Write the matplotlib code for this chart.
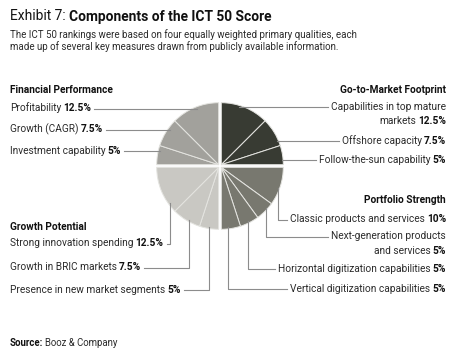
import matplotlib
matplotlib.use("Agg")
import matplotlib.pyplot as plt
import numpy as np

plt.rcParams['font.family'] = ['Roboto', 'DejaVu Sans']

# ---------------- data ----------------
title_prefix = "Exhibit 7:"
title_main = "Components of the ICT 50 Score"
subtitle = ["The ICT 50 rankings were based on four equally weighted primary qualities, each",
            "made up of several key measures drawn from publicly available information."]
source_label = "Source:"
source_text = "Booz & Company"

group_names = ["Go-to-Market Footprint", "Portfolio Strength", "Growth Potential", "Financial Performance"]
group_colors = ["#383b33", "#78786f", "#c9c8c3", "#a2a19c"]

# items listed clockwise, starting at 12 o'clock
gtm_items = ["Capabilities in top mature\nmarkets", "Offshore capacity", "Follow-the-sun capability"]
gtm_values = [12.5, 7.5, 5]
portfolio_items = ["Classic products and services", "Next-generation products\nand services",
                   "Horizontal digitization capabilities", "Vertical digitization capabilities"]
portfolio_values = [10, 5, 5, 5]
growth_items = ["Presence in new market segments", "Growth in BRIC markets", "Strong innovation spending"]
growth_values = [5, 7.5, 12.5]
financial_items = ["Investment capability", "Growth (CAGR)", "Profitability"]
financial_values = [5, 7.5, 12.5]

all_items = [gtm_items, portfolio_items, growth_items, financial_items]
all_values = [gtm_values, portfolio_values, growth_values, financial_values]

# ---------------- layout ----------------
W, H = 456, 358
fig = plt.figure(figsize=(W / 100, H / 100), dpi=100)
fig.patch.set_facecolor("white")
cx, cy, R = 220, 166, 62
pad = 3
pax = fig.add_axes([(cx - R - pad) / W, (H - cy - R - pad) / H, (2 * R + 2 * pad) / W, (2 * R + 2 * pad) / H])
total = sum(sum(v) for v in all_values)
d = 1.3 / R
signs = [(1, 1), (1, -1), (-1, -1), (-1, 1)]
start = 90
for q, vals in enumerate(all_values):
    sx, sy = signs[q]
    wedges, _ = pax.pie(list(vals) + [total - sum(vals)], startangle=start, counterclock=False,
                        colors=[group_colors[q]] * len(vals) + ["none"], radius=1,
                        center=(sx * d, sy * d), frame=True,
                        wedgeprops=dict(edgecolor="#e4e4e0", linewidth=0.7))
    wedges[-1].set_visible(False)
    start -= 360 * sum(vals) / total
lim = (R + pad) / R
pax.set_xlim(-lim, lim)
pax.set_ylim(-lim, lim)
pax.set_aspect("equal")
pax.axis("off")

ov = fig.add_axes([0, 0, 1, 1])
ov.set_xlim(0, W)
ov.set_ylim(H, 0)
ov.axis("off")
fig.canvas.draw()
renderer = fig.canvas.get_renderer()

FS = 7.25
TXT = "#2b2b2b"
LC = "#8c8c8c"
LW = 0.8


def width(t):
    return t.get_window_extent(renderer).width


def rich(x, y, parts, ha="left", fs=FS, color=TXT):
    gap = fs * 0.3
    if ha == "left":
        cur = x
        for s, w in parts:
            t = ov.text(cur, y, s, ha="left", va="baseline", fontsize=fs, fontweight=w,
                        color=("#111111" if w == "bold" else color))
            cur += width(t) + gap
        return x, cur - gap
    cur = x
    for s, w in reversed(parts):
        t = ov.text(cur, y, s, ha="right", va="baseline", fontsize=fs, fontweight=w,
                    color=("#111111" if w == "bold" else color))
        cur -= width(t) + gap
    return cur + gap, x


def label(x, yline, item, val, ha, dy=14.5):
    lines = item.split("\n")
    pct = f"{val:g}%"
    ext = None
    for i, ln in enumerate(lines):
        parts = [(ln, "normal")]
        if i == len(lines) - 1:
            parts.append((pct, "bold"))
        e = rich(x, yline + 2.8 + i * dy, parts, ha=ha)
        if i == 0:
            ext = e
    return ext


def edge_x(y, side):
    return cx + side * np.sqrt(R ** 2 - (y - cy) ** 2)


def edge_y(x):
    return cy + np.sqrt(R ** 2 - (x - cx) ** 2)


# title
t1 = ov.text(10, 20.5, title_prefix, fontsize=9.9, color="#111111", va="baseline")
ov.text(10 + width(t1) + 3.5, 20.5, title_main, fontsize=9.9, fontweight="bold", color="#111111", va="baseline")
for i, s in enumerate(subtitle):
    ov.text(10, 38.5 + i * 11.5, s, fontsize=7.05, color=TXT, va="baseline")

# group headers
header_pos = [(446, 93, "right"), (446, 203, "right"), (10, 230, "left"), (10, 93, "left")]
for name, (x, y, ha) in zip(group_names, header_pos):
    ov.text(x, y, name, fontsize=FS, fontweight="bold", color="#111111", ha=ha, va="baseline")

# Go-to-market (right, horizontal leaders)
gtm_y = [107, 141, 160]
for item, val, y in zip(gtm_items, gtm_values, gtm_y):
    x0, x1 = label(446, y, item, val, "right")
    ov.plot([edge_x(y, 1), x0 - 3], [y, y], color=LC, lw=LW)

# Portfolio (right, elbow leaders)
port_y = [219.5, 236.5, 269, 289]
port_x = [278, 266, 248, 228]
for item, val, y, x in zip(portfolio_items, portfolio_values, port_y, port_x):
    x0, x1 = label(446, y, item, val, "right")
    ov.plot([x, x, x0 - 3], [edge_y(x), y, y], color=LC, lw=LW)

# Growth potential (left, elbow leaders)
grow_y = [290, 267.5, 243.5]
grow_x = [209, 189, 170]
for item, val, y, x in zip(growth_items, growth_values, grow_y, grow_x):
    x0, x1 = label(10, y, item, val, "left")
    ov.plot([x1 + 3, x, x], [y, y, edge_y(x)], color=LC, lw=LW)

# Financial (left, horizontal leaders)
fin_y = [151, 129.5, 108.5]
for item, val, y in zip(financial_items, financial_values, fin_y):
    x0, x1 = label(10, y, item, val, "left")
    ov.plot([x1 + 3, edge_x(y, -1)], [y, y], color=LC, lw=LW)

# source
rich(10, 345.5, [(source_label, "bold"), (source_text, "normal")], fs=6.9)

fig.savefig("out.png", dpi=100, facecolor="white")
